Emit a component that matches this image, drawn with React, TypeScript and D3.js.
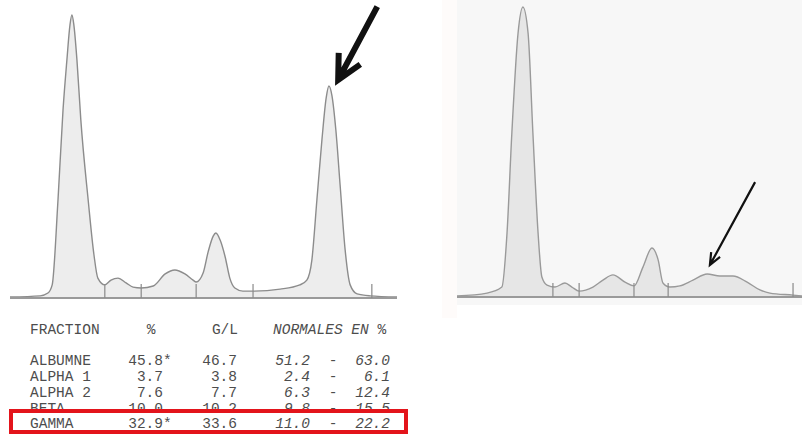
import React, { useEffect, useRef } from "react";
import * as d3 from "d3";

const WIDTH = 802;
const HEIGHT = 434;

// densitometer trace, patient 1 : [position along strip (%), relative density]
const traceA: [number, number][] = [
  [0, 0], [7.8, 0.4], [9.8, 1.4], [10.9, 4.3], [12.4, 34.4], [13.7, 66.3],
  [14.7, 84], [15.5, 96.5], [16.0, 100], [16.5, 96.5], [17.3, 84], [18.3, 62.8],
  [20.2, 34.4], [21.7, 14.9], [22.7, 6.7], [24.5, 4.3], [26.1, 6.0], [27.9, 6.7],
  [30.0, 5.0], [31.8, 3.5], [33.9, 3.2], [37.0, 3.9], [40.1, 8.2], [42.6, 9.6],
  [45.2, 8.2], [47.3, 6.0], [48.1, 5.3], [49.9, 8.5], [51.2, 16.0], [52.5, 21.6],
  [53.2, 22.7], [54.3, 20.2], [55.6, 14.2], [56.8, 6.7], [58.1, 3.2], [60.2, 2.1],
  [62.8, 2.1], [69.8, 2.8], [74.9, 4.3], [76.7, 6.0], [78.0, 13.1], [79.3, 34.4],
  [80.6, 55.7], [81.7, 70.6], [82.4, 74.8], [83.2, 71.3], [84.2, 59.2], [85.3, 39.7],
  [86.6, 16.7], [87.9, 4.3], [89.7, 1.1], [93.0, 0.4], [100, 0],
];
const splitsA = [24.5, 33.9, 48.1, 62.8, 93.5];

// densitometer trace, patient 2
const traceB: [number, number][] = [
  [0, 0], [8.7, 1.0], [13.0, 3.1], [14.5, 21.8], [15.9, 56.4], [17.7, 91.0],
  [19.1, 100], [20.6, 91.0], [22.0, 56.4], [23.5, 21.8], [24.6, 6.6], [26.1, 3.8],
  [28.4, 3.1], [31.3, 4.5], [33.3, 3.1], [35.4, 1.7], [39.4, 3.1], [42.3, 5.5],
  [45.2, 7.3], [48.7, 4.8], [51.3, 3.5], [53.9, 10.0], [56.5, 16.6], [58.3, 12.5],
  [59.7, 4.5], [61.7, 3.1], [64.6, 3.5], [68.4, 5.5], [72.5, 7.6], [76.2, 6.9],
  [80.0, 6.9], [84.1, 4.8], [87.8, 2.1], [90.7, 1.0], [97.4, 0.3], [100, 0],
];
const splitsB = [27.8, 35.4, 51.3, 61.2, 97.4];

// arrows point at the gamma fraction
const arrowA = { tip: [84.8, 77], tail: [94.9, 103] };
const arrowB = { tip: [73.3, 10.7], tail: [86.4, 39.4] };

// result table
const fractions = ["ALBUMNE", "ALPHA 1", "ALPHA 2", "BETA", "GAMMA"];
const percents = ["45.8", "3.7", "7.6", "10.0", "32.9"];
const flagged = [true, false, false, false, true];
const gramsPerLitre = ["46.7", "3.8", "7.7", "10.2", "33.6"];
const normalLow = ["51.2", "2.4", "6.3", "9.8", "11.0"];
const normalHigh = ["63.0", "6.1", "12.4", "15.5", "22.2"];

const App = () => {
  const svgRef = useRef<SVGSVGElement>(null);

  useEffect(() => {
    const svg = d3.select(svgRef.current);
    svg.selectAll("*").remove();

    // background of the second scan
    svg.append("rect").attr("x", 442).attr("y", 0).attr("width", 15).attr("height", 318).attr("fill", "#fefbfa");
    svg.append("rect").attr("x", 457).attr("y", 0).attr("width", 345).attr("height", 305).attr("fill", "#f7f7f7");

    const drawTrace = (
      trace: [number, number][],
      splits: number[],
      x: d3.ScaleLinear<number, number>,
      y: d3.ScaleLinear<number, number>,
      fill: string,
      stroke: string
    ) => {
      const g = svg.append("g");
      const area = d3
        .area<[number, number]>()
        .x((d) => x(d[0]))
        .y0(y(0))
        .y1((d) => y(d[1]))
        .curve(d3.curveMonotoneX);
      const line = d3
        .line<[number, number]>()
        .x((d) => x(d[0]))
        .y((d) => y(d[1]))
        .curve(d3.curveMonotoneX);

      g.append("path").attr("d", area(trace)).attr("fill", fill);
      g.append("path")
        .attr("d", line(trace))
        .attr("fill", "none")
        .attr("stroke", stroke)
        .attr("stroke-width", 1.4);

      // baseline
      g.append("line")
        .attr("x1", x.range()[0])
        .attr("x2", x.range()[1])
        .attr("y1", y(0) + 1)
        .attr("y2", y(0) + 1)
        .attr("stroke", "#9a9a9a")
        .attr("stroke-width", 2);

      // fraction limits
      g.selectAll(".split")
        .data(splits)
        .enter()
        .append("line")
        .attr("x1", (d) => x(d))
        .attr("x2", (d) => x(d))
        .attr("y1", y(0) - 13)
        .attr("y2", y(0) + 1)
        .attr("stroke", "#8a8a8a")
        .attr("stroke-width", 1.2);
    };

    const xA = d3.scaleLinear().domain([0, 100]).range([10, 397]);
    const yA = d3.scaleLinear().domain([0, 100]).range([297, 15]);
    drawTrace(traceA, splitsA, xA, yA, "#ededed", "#8c8c8c");

    const xB = d3.scaleLinear().domain([0, 100]).range([457, 802]);
    const yB = d3.scaleLinear().domain([0, 100]).range([296, 7]);
    drawTrace(traceB, splitsB, xB, yB, "#e6e6e6", "#9a9a9a");

    const drawArrow = (
      a: { tip: number[]; tail: number[] },
      x: d3.ScaleLinear<number, number>,
      y: d3.ScaleLinear<number, number>,
      width: number,
      head: number,
      spread: number
    ) => {
      const tx = x(a.tip[0]);
      const ty = y(a.tip[1]);
      const sx = x(a.tail[0]);
      const sy = y(a.tail[1]);
      const ang = Math.atan2(sy - ty, sx - tx);
      const w1 = [tx + head * Math.cos(ang - spread), ty + head * Math.sin(ang - spread)];
      const w2 = [tx + head * Math.cos(ang + spread), ty + head * Math.sin(ang + spread)];
      svg.append("path")
        .attr("d", `M${sx},${sy}L${tx},${ty}M${w1[0]},${w1[1]}L${tx},${ty}L${w2[0]},${w2[1]}`)
        .attr("fill", "none")
        .attr("stroke", "#111")
        .attr("stroke-width", width)
        .attr("stroke-linecap", "butt")
        .attr("stroke-linejoin", "miter");
    };
    drawArrow(arrowA, xA, yA, 6, 27, 0.47);
    drawArrow(arrowB, xB, yB, 2.2, 13, 0.4);

    // table
    const textGroup = () =>
      svg
        .append("g")
        .attr("font-family", "'Liberation Mono', 'Courier New', monospace")
        .attr("font-size", 14.5)
        .attr("fill", "#4d4d4d");
    const t = textGroup();

    t.append("text").attr("x", 30).attr("y", 334).text("FRACTION");
    t.append("text").attr("x", 151).attr("y", 334).attr("text-anchor", "middle").text("%");
    t.append("text").attr("x", 238).attr("y", 334).attr("text-anchor", "end").text("G/L");
    const hdr = t.append("text").attr("x", 273).attr("y", 334);
    hdr.append("tspan").attr("font-style", "italic").text("NORMALES EN ");
    hdr.append("tspan").text("%");

    const rowY = d3.scaleLinear().domain([0, 1]).range([365, 381]);
    const drawRow = (g: any, i: number, yPos: number) => {
      g.append("text").attr("x", 30).attr("y", yPos).text(fractions[i]);
      g.append("text").attr("x", 163).attr("y", yPos).attr("text-anchor", "end").text(percents[i]);
      if (flagged[i]) g.append("text").attr("x", 163).attr("y", yPos).text("*");
      g.append("text").attr("x", 237).attr("y", yPos).attr("text-anchor", "end").text(gramsPerLitre[i]);
      g.append("text").attr("x", 310).attr("y", yPos).attr("text-anchor", "end").attr("font-style", "italic").text(normalLow[i]);
      g.append("text").attr("x", 333).attr("y", yPos).attr("text-anchor", "middle").text("-");
      g.append("text").attr("x", 390).attr("y", yPos).attr("text-anchor", "end").attr("font-style", "italic").text(normalHigh[i]);
    };
    for (let i = 0; i < 4; i++) drawRow(t, i, rowY(i));

    // highlight box over the gamma line
    svg.append("rect")
      .attr("x", 11)
      .attr("y", 411)
      .attr("width", 395)
      .attr("height", 21)
      .attr("fill", "#fff")
      .attr("stroke", "#e3141b")
      .attr("stroke-width", 4);
    drawRow(textGroup(), 4, 427.5);
  }, []);

  return (
    <svg
      ref={svgRef}
      width={WIDTH}
      height={HEIGHT}
      style={{ position: "absolute", left: 0, top: 0, background: "#fff" }}
    ></svg>
  );
};

export default App;
